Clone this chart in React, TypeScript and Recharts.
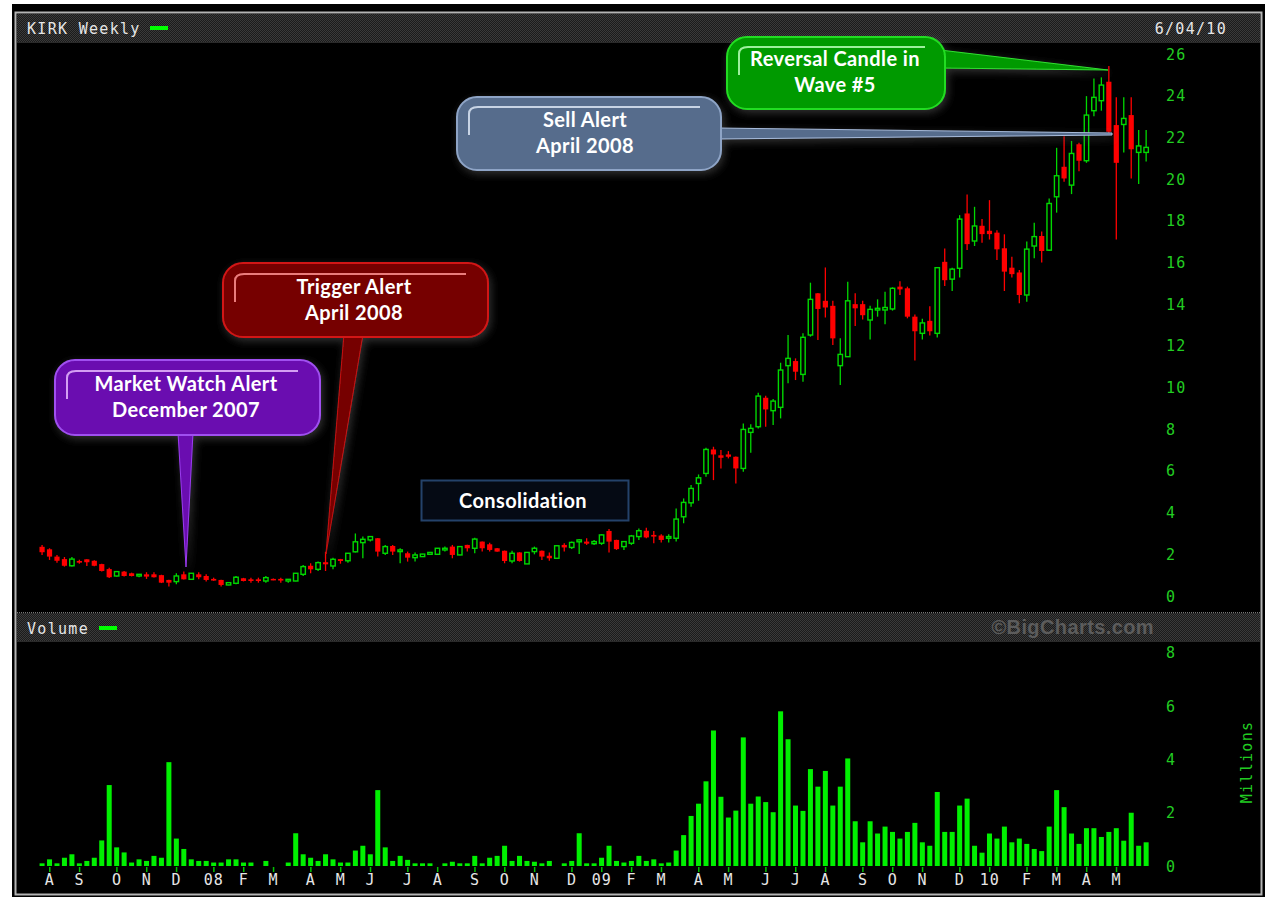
import React from 'react';
import { ComposedChart, Bar, XAxis, YAxis } from 'recharts';

// ---------- DATA (weekly, KIRK, Jul 2007 - Jun 2010) ----------
const opens = [
  2.36, 2.24, 1.89, 1.77, 1.45, 1.68, 1.76, 1.69, 1.53, 1.29,
  0.96, 1.17, 1.09, 0.96, 1.04, 1.04, 1.00, 0.77, 0.69, 1.04,
  0.80, 1.04, 0.96, 0.82, 0.77, 0.53, 0.61, 0.85, 0.80, 0.80,
  0.72, 0.82, 0.82, 0.72, 0.72, 1.04, 1.45, 1.28, 1.62, 1.44,
  1.77, 1.69, 2.12, 2.56, 2.69, 2.77, 2.05, 2.40, 2.13, 2.05,
  1.84, 1.89, 2.00, 2.00, 2.21, 2.37, 1.97, 2.45, 2.29, 2.61,
  2.48, 2.29, 2.17, 1.68, 2.09, 1.54, 2.13, 2.17, 1.93, 1.81,
  2.45, 2.33, 2.60, 2.61, 2.51, 2.53, 3.12, 2.69, 2.37, 2.53,
  2.85, 3.13, 2.93, 2.90, 2.77, 2.77, 3.80, 4.47, 5.40, 5.88,
  7.03, 6.75, 6.79, 6.68, 6.12, 7.85, 8.12, 9.51, 8.89, 9.05,
  11.05, 11.27, 10.63, 12.52, 14.52, 14.16, 13.92, 11.05, 11.48, 14.00,
  14.00, 13.24, 13.72, 13.72, 13.77, 14.84, 14.76, 13.40, 12.60, 13.20,
  12.60, 16.03, 15.20, 15.72, 18.35, 17.03, 17.76, 17.52, 17.43, 16.68,
  15.75, 15.52, 14.44, 16.79, 17.27, 16.59, 19.15, 20.59, 19.71, 21.67,
  20.88, 23.28, 23.76, 24.67, 22.59, 22.62, 23.07, 21.28, 21.28,
];
const highs = [
  2.45, 2.29, 1.97, 1.87, 1.87, 1.74, 1.76, 1.72, 1.55, 1.36,
  1.20, 1.20, 1.12, 1.04, 1.14, 1.14, 1.02, 0.78, 1.09, 1.17,
  1.10, 1.14, 1.04, 0.88, 0.78, 0.66, 0.96, 0.87, 0.88, 0.88,
  0.96, 0.84, 0.88, 0.80, 1.10, 1.49, 1.57, 1.65, 2.12, 1.84,
  1.78, 2.06, 3.00, 2.85, 2.86, 2.78, 2.45, 2.45, 2.29, 2.13,
  2.09, 2.02, 2.10, 2.30, 2.37, 2.45, 2.38, 2.46, 2.80, 2.62,
  2.56, 2.30, 2.18, 2.17, 2.10, 2.10, 2.37, 2.18, 2.09, 2.42,
  2.53, 2.61, 2.73, 2.77, 2.69, 2.96, 3.21, 2.70, 2.62, 2.93,
  3.24, 3.28, 3.12, 2.96, 2.96, 4.20, 4.68, 5.33, 5.83, 7.11,
  7.16, 7.00, 6.95, 6.69, 8.28, 8.24, 9.75, 9.61, 9.45, 11.19,
  12.52, 11.40, 12.60, 15.03, 14.53, 15.76, 14.16, 12.36, 15.08, 14.52,
  14.16, 13.92, 14.23, 14.60, 14.81, 15.10, 14.84, 13.50, 13.30, 13.90,
  15.76, 16.67, 15.75, 18.27, 19.26, 18.67, 18.08, 18.99, 17.55, 17.35,
  16.27, 15.64, 17.00, 17.91, 17.48, 19.07, 21.50, 22.06, 21.83, 21.74,
  23.98, 24.83, 24.88, 25.42, 23.92, 23.92, 23.92, 22.36, 22.36,
];
const lows = [
  1.97, 1.73, 1.60, 1.41, 1.41, 1.55, 1.44, 1.43, 1.18, 0.86,
  0.93, 0.93, 0.94, 0.90, 0.82, 0.89, 0.62, 0.45, 0.56, 0.79,
  0.78, 0.80, 0.69, 0.73, 0.45, 0.52, 0.56, 0.70, 0.64, 0.64,
  0.64, 0.76, 0.64, 0.64, 0.71, 0.96, 1.09, 1.20, 1.20, 1.28,
  1.55, 1.60, 2.09, 1.81, 2.61, 1.89, 1.97, 1.97, 1.57, 1.65,
  1.65, 1.88, 1.99, 1.99, 2.13, 1.81, 1.96, 2.13, 2.05, 2.13,
  2.13, 2.12, 1.57, 1.57, 1.65, 1.53, 2.00, 1.73, 1.69, 1.80,
  2.13, 2.25, 2.01, 2.45, 2.45, 2.45, 2.09, 2.21, 2.21, 2.45,
  2.69, 2.77, 2.53, 2.57, 2.57, 2.61, 3.49, 4.28, 4.57, 5.72,
  5.56, 6.12, 6.60, 5.40, 5.96, 6.87, 8.04, 8.12, 8.20, 8.52,
  10.20, 10.36, 10.28, 12.44, 12.28, 13.36, 12.04, 10.12, 11.47, 12.95,
  13.27, 12.31, 13.40, 13.04, 13.69, 14.44, 13.32, 11.30, 12.30, 12.50,
  12.40, 14.87, 14.63, 15.28, 16.60, 16.79, 16.95, 17.10, 16.12, 14.63,
  15.28, 14.04, 14.12, 16.20, 16.00, 16.55, 18.39, 19.87, 19.28, 20.38,
  20.78, 23.02, 23.28, 22.16, 17.10, 21.28, 20.03, 19.76, 20.84,
];
const closes = [
  2.10, 1.89, 1.69, 1.45, 1.77, 1.60, 1.62, 1.45, 1.20, 0.90,
  1.17, 0.96, 0.96, 1.04, 0.93, 0.90, 0.64, 0.64, 0.96, 0.80,
  1.09, 0.90, 0.77, 0.74, 0.53, 0.64, 0.90, 0.72, 0.72, 0.72,
  0.88, 0.77, 0.74, 0.80, 1.09, 1.41, 1.28, 1.60, 1.52, 1.76,
  1.68, 2.05, 2.60, 2.72, 2.85, 2.13, 2.37, 2.13, 2.21, 1.84,
  1.97, 2.01, 2.09, 2.29, 2.29, 1.97, 2.37, 2.29, 2.73, 2.29,
  2.21, 2.13, 1.68, 2.05, 1.68, 2.09, 2.29, 1.89, 1.81, 2.41,
  2.33, 2.57, 2.69, 2.51, 2.61, 2.93, 2.61, 2.25, 2.61, 2.88,
  3.13, 2.81, 2.85, 2.69, 2.85, 3.69, 4.49, 5.16, 5.67, 7.03,
  6.79, 6.63, 6.68, 6.12, 7.99, 8.04, 9.59, 8.95, 9.35, 10.84,
  11.40, 10.76, 12.41, 14.23, 13.77, 13.84, 12.36, 11.59, 14.16, 13.80,
  13.47, 13.75, 13.80, 13.84, 14.76, 14.71, 13.40, 12.70, 13.10, 12.70,
  15.75, 15.15, 15.68, 18.08, 16.88, 17.75, 17.36, 17.36, 16.63, 15.56,
  15.44, 14.44, 16.64, 17.24, 16.55, 18.83, 20.16, 20.03, 21.23, 20.88,
  23.07, 23.92, 24.51, 22.27, 20.78, 22.91, 21.43, 21.59, 21.52,
];
// volume in millions of shares
const volumes = [
  0.10, 0.25, 0.10, 0.31, 0.44, 0.10, 0.19, 0.31, 0.96, 3.04,
  0.70, 0.51, 0.13, 0.25, 0.19, 0.38, 0.31, 3.90, 1.03, 0.64,
  0.25, 0.19, 0.19, 0.13, 0.13, 0.25, 0.25, 0.13, 0.13, 0.00,
  0.19, 0.00, 0.00, 0.13, 1.23, 0.44, 0.31, 0.19, 0.44, 0.25,
  0.13, 0.13, 0.58, 0.76, 0.44, 2.85, 0.70, 0.19, 0.38, 0.23,
  0.10, 0.10, 0.10, 0.00, 0.10, 0.16, 0.10, 0.10, 0.38, 0.10,
  0.31, 0.38, 0.76, 0.19, 0.38, 0.19, 0.16, 0.10, 0.19, 0.00,
  0.10, 0.19, 1.23, 0.10, 0.10, 0.31, 0.76, 0.19, 0.13, 0.19,
  0.38, 0.19, 0.25, 0.10, 0.13, 0.58, 1.16, 1.88, 2.34, 3.18,
  5.09, 2.60, 1.82, 2.08, 4.83, 2.34, 2.61, 2.40, 2.02, 5.81,
  4.76, 2.27, 2.07, 3.64, 2.98, 3.57, 2.27, 2.98, 4.04, 1.68,
  0.89, 1.68, 1.22, 1.48, 1.28, 1.03, 1.28, 1.62, 0.89, 0.76,
  2.78, 1.28, 1.28, 2.27, 2.53, 0.76, 0.50, 1.22, 1.03, 1.48,
  0.89, 1.03, 0.83, 0.64, 0.56, 1.48, 2.85, 2.21, 1.22, 0.83,
  1.42, 1.42, 1.09, 1.28, 1.42, 0.95, 2.00, 0.76, 0.89,
];
const monthTickIndex = [1, 5, 10, 14, 18, 23, 27, 31, 36, 40, 44, 49, 53, 58, 62, 66, 71, 75, 79, 83, 88, 92, 97, 101, 105, 110, 114, 118, 123, 127, 132, 136, 140, 144];
const monthTickLabel = ['A', 'S', 'O', 'N', 'D', '08', 'F', 'M', 'A', 'M', 'J', 'J', 'A', 'S', 'O', 'N', 'D', '09', 'F', 'M', 'A', 'M', 'J', 'J', 'A', 'S', 'O', 'N', 'D', '10', 'F', 'M', 'A', 'M'];
const priceTicks = [0, 2, 4, 6, 8, 10, 12, 14, 16, 18, 20, 22, 24, 26];
const volumeTicks = [0, 2, 4, 6, 8];

const weeks = opens.map((o, i) => ({
  i,
  o,
  h: highs[i],
  l: lows[i],
  c: closes[i],
  v: volumes[i],
}));

// ---------- STYLE ----------
const GREEN = '#00d800';
const VOL_GREEN = '#00f000';
const RED = '#ff0000';
const AXIS_GREEN = '#22cc22';
const MONO = '"DejaVu Sans Mono", "Liberation Mono", monospace';
const CALLOUT_FONT = 'Lato, "Open Sans", sans-serif';
const CALLOUT_SIZE = 20;
const CALLOUT_SPACING = 0.4;

const CW = 1268;
const CH = 897;
const PLOT_LEFT = 38.57;
const PLOT_RIGHT = 1150.1;
const AXIS_W = CW - PLOT_RIGHT;

const CandleShape = (props: any) => {
  const { x, y, width, height, payload } = props;
  if (!payload) return <g />;
  const { o, h, l, c } = payload;
  const top = Math.min(y, y + height);
  const span = Math.abs(height);
  const ppu = span / (h - l);
  const cx = x + width / 2;
  const yO = top + (h - o) * ppu;
  const yC = top + (h - c) * ppu;
  const up = c >= o;
  const color = up ? GREEN : RED;
  const bt = Math.min(yO, yC);
  const bb = Math.max(yO, yC);
  const bh = Math.max(bb - bt, 1.5);
  return (
    <g>
      <line x1={cx} x2={cx} y1={top} y2={top + span} stroke={color} strokeWidth={1.3} />
      {up ? (
        <rect x={cx - 2.2} y={bt} width={4.4} height={bh} fill="#000" stroke={color} strokeWidth={1.4} />
      ) : (
        <rect x={cx - 2.6} y={bt} width={5.2} height={bh} fill={color} />
      )}
    </g>
  );
};

const VolumeShape = (props: any) => {
  const { x, y, width, height } = props;
  if (!height || Math.abs(height) < 0.01) return <g />;
  const cx = x + width / 2;
  const top = Math.min(y, y + height);
  return <rect x={cx - 2.5} y={top} width={5} height={Math.abs(height)} fill={VOL_GREEN} />;
};

const RightTick = (props: any) => {
  const { x, y, payload } = props;
  return (
    <text x={x} y={y} dy={5.5} textAnchor="start" fill={AXIS_GREEN} fontFamily={MONO} fontSize={15} letterSpacing={1.2}>
      {payload.value}
    </text>
  );
};

const MonthTick = (props: any) => {
  const { x, y, payload } = props;
  const k = monthTickIndex.indexOf(payload.value);
  if (k < 0) return <g />;
  return (
    <g>
      <line x1={x} x2={x} y1={y + 1} y2={y + 6} stroke="#00c000" strokeWidth={1.5} />
      <text x={x} y={y + 19} textAnchor="middle" fill="#e6e6e6" fontFamily={MONO} fontSize={15} letterSpacing={1}>
        {monthTickLabel[k]}
      </text>
    </g>
  );
};

const Frame = () => (
  <svg width={CW} height={CH} style={{ position: 'absolute', left: 0, top: 0 }}>
    <defs>
      <pattern id="dots" width="2" height="2" patternUnits="userSpaceOnUse">
        <rect width="2" height="2" fill="#1b1b1b" />
        <rect width="1" height="1" fill="#3a3a3a" />
        <rect x="1" y="1" width="1" height="1" fill="#3a3a3a" />
      </pattern>
    </defs>
    <rect x={0} y={0} width={CW} height={CH} fill="#ffffff" />
    <rect x={12} y={4} width={1253} height={893} fill="#000000" />
    <rect x={15.5} y={12.5} width={1246} height={882} fill="none" stroke="#b4b4b4" strokeWidth={2} />
    <rect x={17} y={14} width={1243} height={28} fill="url(#dots)" />
    <line x1={17} x2={1260} y1={42.5} y2={42.5} stroke="#2a2a2a" />
    <text x={27} y={34} fill="#e6e6e6" fontFamily={MONO} fontSize={15} letterSpacing={1.3}>KIRK Weekly</text>
    <rect x={150} y={26} width={18} height={4} fill="#00ff00" />
    <text x={1227} y={34} textAnchor="end" fill="#e6e6e6" fontFamily={MONO} fontSize={15} letterSpacing={1.3}>6/04/10</text>

    <rect x={17} y={613} width={1243} height={28} fill="url(#dots)" />
    <line x1={17} x2={1260} y1={612.5} y2={612.5} stroke="#777" strokeDasharray="1 1" />
    <line x1={17} x2={1260} y1={641.5} y2={641.5} stroke="#2a2a2a" />
    <text x={27} y={634} fill="#e6e6e6" fontFamily={MONO} fontSize={15} letterSpacing={1.3}>Volume</text>
    <rect x={99} y={626} width={18} height={4} fill="#00ff00" />
    <text x={1154} y={634} textAnchor="end" fill="#5c5c5c" fontFamily='"Liberation Sans", Arial, sans-serif' fontWeight="bold" fontSize={20} letterSpacing={0.4}>©BigCharts.com</text>
    <text
      x={0}
      y={0}
      transform="translate(1252 762) rotate(-90)"
      textAnchor="middle"
      fill={AXIS_GREEN}
      fontFamily={MONO}
      fontSize={15}
      letterSpacing={1.3}
    >
      Millions
    </text>
  </svg>
);

const CalloutText = ({ x, y, children }: any) => (
  <text
    x={x}
    y={y}
    textAnchor="middle"
    fill="#ffffff"
    fontFamily={CALLOUT_FONT}
    fontWeight="bold"
    fontSize={CALLOUT_SIZE}
    letterSpacing={CALLOUT_SPACING}
  >
    {children}
  </text>
);

const Callouts = () => (
  <svg width={CW} height={CH} style={{ position: 'absolute', left: 0, top: 0, pointerEvents: 'none' }}>
    <defs>
      <filter id="glow" x="-20%" y="-30%" width="140%" height="160%">
        <feDropShadow dx="2" dy="3" stdDeviation="4" floodColor="#5a5a5a" floodOpacity="0.55" />
      </filter>
    </defs>

    {/* Market Watch Alert */}
    <g filter="url(#glow)">
      <polygon points="178,432 193,432 186,567" fill="#6a0fb0" stroke="#9b3cf0" strokeWidth={1} />
      <rect x={55} y={360} width={265} height={75} rx={20} fill="#6a0fb0" stroke="#a050f0" strokeWidth={2} />
      <path d="M67,399 L67,378 Q67,371 76,371 L298,371" fill="none" stroke="#e6b8ff" strokeWidth={2} opacity={0.85} />
    </g>
    <CalloutText x={186} y={391}>Market Watch Alert</CalloutText>
    <CalloutText x={186} y={417}>December 2007</CalloutText>

    {/* Trigger Alert */}
    <g filter="url(#glow)">
      <polygon points="344,334 363,334 326,554" fill="#760000" stroke="#c81010" strokeWidth={1} />
      <rect x={223} y={263} width={265} height={74} rx={20} fill="#760000" stroke="#d21414" strokeWidth={2} />
      <path d="M235,302 L235,281 Q235,274 244,274 L466,274" fill="none" stroke="#ff9090" strokeWidth={2} opacity={0.85} />
    </g>
    <CalloutText x={354} y={294}>Trigger Alert</CalloutText>
    <CalloutText x={354} y={320}>April 2008</CalloutText>

    {/* Sell Alert */}
    <g filter="url(#glow)">
      <polygon points="715,128 715,139 1112,135 1112,133" fill="#566c8c" stroke="#a8bcdc" strokeWidth={1} />
      <rect x={457} y={97} width={264} height={73} rx={20} fill="#566c8c" stroke="#8ea4c6" strokeWidth={2} />
      <path d="M469,135 L469,114 Q469,107 478,107 L700,107" fill="none" stroke="#dce6f4" strokeWidth={2} opacity={0.85} />
    </g>
    <CalloutText x={585} y={127}>Sell Alert</CalloutText>
    <CalloutText x={585} y={153}>April 2008</CalloutText>

    {/* Reversal Candle */}
    <g filter="url(#glow)">
      <polygon points="940,50 940,68 1108,70" fill="#009a00" stroke="#30e030" strokeWidth={1} />
      <rect x={727} y={37} width={218} height={72} rx={20} fill="#009a00" stroke="#22dd22" strokeWidth={2} />
      <path d="M739,75 L739,54 Q739,47 748,47 L925,47" fill="none" stroke="#b8ffb8" strokeWidth={2} opacity={0.85} />
    </g>
    <CalloutText x={835} y={66}>Reversal Candle in</CalloutText>
    <CalloutText x={835} y={92}>Wave #5</CalloutText>

    {/* Consolidation */}
    <rect x={421.5} y={480.5} width={207} height={40} fill="#050a14" stroke="#24426a" strokeWidth={2} />
    <CalloutText x={523} y={508}>Consolidation</CalloutText>
  </svg>
);

export default function App() {
  return (
    <div style={{ position: 'absolute', left: 0, top: 0, width: CW, height: CH, overflow: 'hidden' }}>
      <Frame />
      <div style={{ position: 'absolute', left: 0, top: 0 }}>
        <ComposedChart
          width={CW}
          height={612}
          data={weeks}
          margin={{ top: 42, right: 0, bottom: 0, left: PLOT_LEFT }}
          barCategoryGap={0}
          barGap={0}
        >
          <XAxis dataKey="i" hide interval={0} />
          <YAxis
            orientation="right"
            width={AXIS_W}
            domain={[-0.7675, 26.576]}
            allowDataOverflow
            ticks={priceTicks}
            interval={0}
            axisLine={false}
            tickLine={false}
            tickSize={0}
            tickMargin={16}
            tick={<RightTick />}
          />
          <Bar dataKey={(d: any) => [d.l, d.h]} shape={<CandleShape />} isAnimationActive={false} />
        </ComposedChart>
      </div>
      <div style={{ position: 'absolute', left: 0, top: 0 }}>
        <ComposedChart
          width={CW}
          height={CH}
          data={weeks}
          margin={{ top: 642, right: 0, bottom: 0, left: PLOT_LEFT }}
          barCategoryGap={0}
          barGap={0}
        >
          <XAxis
            dataKey="i"
            interval={0}
            height={31}
            axisLine={false}
            tickLine={false}
            tickSize={0}
            tickMargin={0}
            tick={<MonthTick />}
          />
          <YAxis
            orientation="right"
            width={AXIS_W}
            domain={[0, 8.413]}
            allowDataOverflow
            ticks={volumeTicks}
            interval={0}
            axisLine={false}
            tickLine={false}
            tickSize={0}
            tickMargin={16}
            tick={<RightTick />}
          />
          <Bar dataKey="v" shape={<VolumeShape />} isAnimationActive={false} />
        </ComposedChart>
      </div>
      <Callouts />
    </div>
  );
}
